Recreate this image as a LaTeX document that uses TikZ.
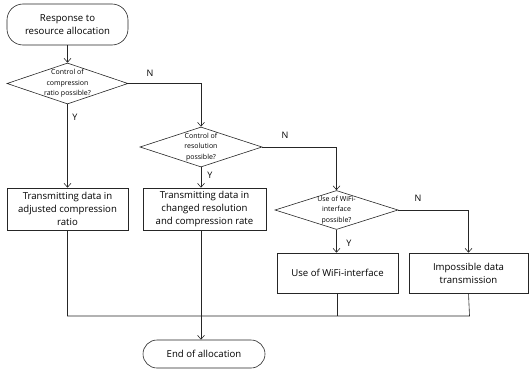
\documentclass[tikz,border=0pt]{standalone}
\usepackage{fontspec}
\setmainfont{Open Sans}
\usetikzlibrary{shapes.geometric,arrows.meta}
\tikzset{
  x=1pt, y=-1pt,
  line/.style={draw=black!85, line width=0.6pt},
  arr/.style={line, -{Straight Barb[length=4pt,width=7pt,line width=0.6pt]}},
  term/.style={line, rounded corners=16pt, inner sep=0pt, align=center,
    font=\fontsize{9.6}{13}\selectfont},
  procbox/.style={line, inner sep=0pt, align=center,
    font=\fontsize{9.6}{13}\selectfont},
  dia/.style={line, diamond, inner sep=0pt},
  dtext/.style={align=center, inner sep=0pt, font=\fontsize{7}{10.5}\selectfont},
  yn/.style={inner sep=0pt, font=\fontsize{9}{10}\selectfont},
}
\begin{document}
\begin{tikzpicture}
\useasboundingbox (0,0) rectangle (529,372);
% terminals
\node[term, minimum width=121pt, minimum height=41pt] (start) at (67.5,24.5)
  {Response to\\resource allocation};
\node[term, minimum width=122pt, minimum height=28pt, rounded corners=14pt] (stop) at (204,354)
  {End of allocation};
% decisions
\node[dia, minimum width=121pt, minimum height=41pt,
  label={[dtext]center:Control of\\compression\\ratio possible?}] (d1) at (67.5,83.5) {};
\node[dia, minimum width=122pt, minimum height=40pt,
  label={[dtext]center:Control of\\resolution\\possible?}] (d2) at (201,147) {};
\node[dia, minimum width=123pt, minimum height=39pt,
  label={[dtext]center:Use of WiFi-\\interface\\possible?}] (d3) at (336.5,210) {};
% process boxes
\node[procbox, minimum width=121pt, minimum height=42pt] (b1) at (67.5,209)
  {Transmitting data in\\adjusted compression\\ratio};
\node[procbox, minimum width=123pt, minimum height=42pt] (b2) at (204.5,209)
  {Transmitting data in\\changed resolution\\and compression rate};
\node[procbox, minimum width=121pt, minimum height=40pt] (b3) at (337.5,273)
  {Use of WiFi-interface};
\node[procbox, minimum width=119pt, minimum height=40pt] (b4) at (468.5,273)
  {Impossible data\\transmission};
\coordinate (m) at (469.5,316);
% connectors
\draw[arr] (start.south) -- (d1.north);
\draw[arr] (d1.east) -| (d2.north);
\draw[arr] (d1.south) -- (b1.north);
\draw[arr] (d2.south) -- (d2.south |- b2.north);
\draw[arr] (d2.east) -| (d3.north);
\draw[arr] (d3.south) -- (d3.south |- b3.north);
\draw[arr] (d3.east) -| (b4.north);
\draw[line] (b1.south) |- (m) -- (b4.south);
\draw[line] (b3.south) -- (b3.south |- m);
\draw[arr] (b2.south -| d2.south) -- (stop.north -| d2.south);
% branch labels
\node[yn] (n1) at (150,73) {N};
\node[yn] (n2) at (285,135) {N};
\node[yn] (n3) at (418,198) {N};
\node[yn] (y1) at (75,117) {Y};
\node[yn] (y2) at (210,175) {Y};
\node[yn] (y3) at (349,243) {Y};
\end{tikzpicture}
\end{document}
